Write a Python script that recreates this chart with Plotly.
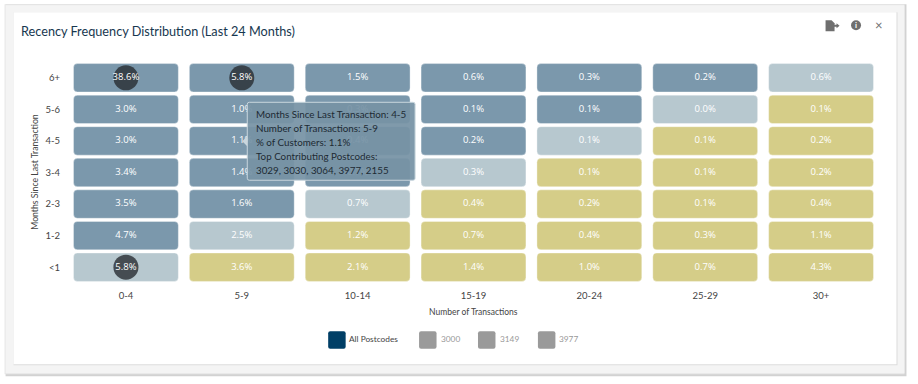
import plotly.graph_objects as go

frequency = ["0-4", "5-9", "10-14", "15-19", "20-24", "25-29", "30+"]
recency = ["<1", "1-2", "2-3", "3-4", "4-5", "5-6", "6+"]
pct = [
    [5.8, 3.6, 2.1, 1.4, 1.0, 0.7, 4.3],
    [4.7, 2.5, 1.2, 0.7, 0.4, 0.3, 1.1],
    [3.5, 1.6, 0.7, 0.4, 0.2, 0.1, 0.4],
    [3.4, 1.4, 0.7, 0.3, 0.1, 0.1, 0.2],
    [3.0, 1.1, 0.4, 0.2, 0.1, 0.1, 0.2],
    [3.0, 1.0, 0.3, 0.1, 0.1, 0.0, 0.1],
    [38.6, 5.8, 1.5, 0.6, 0.3, 0.2, 0.6],
]
# segment per cell: 0 dark blue, 1 light blue, 2 yellow
segment = [
    [1, 2, 2, 2, 2, 2, 2],
    [0, 1, 2, 2, 2, 2, 2],
    [0, 0, 1, 2, 2, 2, 2],
    [0, 0, 0, 1, 2, 2, 2],
    [0, 0, 0, 0, 1, 2, 2],
    [0, 0, 0, 0, 0, 1, 2],
    [0, 0, 0, 0, 0, 0, 1],
]
segment_colors = ["#7b98ac", "#b7c8cf", "#d5cd88"]
highlight_cells = [("0-4", "6+"), ("5-9", "6+"), ("0-4", "<1")]
legend_items = ["All Postcodes", "3000", "3149", "3977"]
title = "Recency Frequency Distribution (Last 24 Months)"
tooltip_lines = [
    "Months Since Last Transaction: 4-5",
    "Number of Transactions: 5-9",
    "% of Customers: 1.1%",
    "Top Contributing Postcodes:",
    "3029, 3030, 3064, 3977, 2155",
]

W, H = 918, 384
L, R, T, B = 67.5, 918 - 879.5, 61.7, 384 - 282.8
FONT = "Lato"
CELL_FONT = "Open Sans"


def px(x):
    return (x - L) / (W - L - R)


def py(y):
    return 1 - (y - T) / (H - T - B)


def rrect(x0, y0, x1, y1, r, fill, line=None, width=0):
    path = (
        f"M{px(x0 + r)},{py(y0)} L{px(x1 - r)},{py(y0)} Q{px(x1)},{py(y0)} {px(x1)},{py(y0 + r)} "
        f"L{px(x1)},{py(y1 - r)} Q{px(x1)},{py(y1)} {px(x1 - r)},{py(y1)} "
        f"L{px(x0 + r)},{py(y1)} Q{px(x0)},{py(y1)} {px(x0)},{py(y1 - r)} "
        f"L{px(x0)},{py(y0 + r)} Q{px(x0)},{py(y0)} {px(x0 + r)},{py(y0)} Z"
    )
    return dict(type="path", xref="paper", yref="paper", path=path, fillcolor=fill,
                line=dict(color=line or fill, width=width), layer="below")


def rect(x0, y0, x1, y1, fill):
    return dict(type="rect", xref="paper", yref="paper", x0=px(x0), x1=px(x1), y0=py(y0), y1=py(y1),
                fillcolor=fill, line=dict(width=0), layer="below")


def note(x, y, text, size, color, xanchor="center", **kw):
    return dict(x=px(x), y=py(y), xref="paper", yref="paper", text=text, showarrow=False,
                xanchor=xanchor, yanchor="middle", borderpad=0, borderwidth=0,
                font=dict(family=FONT, size=size, color=color), **kw)


fig = go.Figure()

# cells
for r, row_name in enumerate(recency):
    fig.add_trace(go.Bar(
        x=frequency,
        y=[0.9] * len(frequency),
        base=[r - 0.45] * len(frequency),
        width=0.905,
        marker=dict(color=[segment_colors[s] for s in segment[r]],
                    cornerradius=4, line=dict(width=1, color="rgba(255,255,255,0.35)")),
        hoverinfo="skip",
        showlegend=False,
    ))

# highlight circles
fig.add_trace(go.Scatter(
    x=[c[0] for c in highlight_cells],
    y=[recency.index(c[1]) for c in highlight_cells],
    mode="markers",
    marker=dict(size=25, color="rgba(40,45,50,0.8)", line=dict(width=0)),
    hoverinfo="skip",
    showlegend=False,
))

# cell labels
xs, ys, txt = [], [], []
for r in range(len(recency)):
    for c in range(len(frequency)):
        xs.append(frequency[c])
        ys.append(r)
        txt.append(f"{pct[r][c]:.1f}%")
fig.add_trace(go.Scatter(
    x=xs, y=ys, text=txt, mode="text", textposition="middle center",
    textfont=dict(family=CELL_FONT, size=9.5, color="white"),
    hoverinfo="skip", showlegend=False,
))

# page frame
shapes = [
    rect(5, 4, 907, 376, "#d2d2d2"),
    rect(4, 4, 905, 374, "#e6e6e6"),
    rect(5, 5, 905, 373, "#f4f4f4"),
    rect(13, 12, 898, 365, "#dcdcdc"),
    rect(13, 12, 897, 364, "#ffffff"),
]

# legend swatches
for sx, color in zip([328, 419, 478, 538], ["#003f66", "#9a9a9a", "#9a9a9a", "#9a9a9a"]):
    shapes.append(rrect(sx, 331, sx + 17.5, 348.5, 2, color))

# tooltip
tip_x0, tip_y0, tip_x1, tip_y1 = 247, 102, 415, 180
tip = rrect(tip_x0, tip_y0, tip_x1, tip_y1, 2, "rgba(118,146,165,0.93)", "#c9d6dd", 1)
tip["layer"] = "above"
shapes.append(tip)
shapes.append(dict(type="path", xref="paper", yref="paper", layer="above",
                   path=f"M{px(247)},{py(136)} L{px(242)},{py(141)} L{px(247)},{py(146)} Z",
                   fillcolor="#c9d6dd", line=dict(width=0)))

# icons
shapes += [
    dict(type="path", xref="paper", yref="paper", layer="above", fillcolor="#6f6f6f", line=dict(width=0),
         path=f"M{px(826)},{py(20)} L{px(832)},{py(20)} L{px(835)},{py(23)} L{px(835)},{py(31)} L{px(826)},{py(31)} Z"),
    dict(type="path", xref="paper", yref="paper", layer="above", fillcolor="#6f6f6f", line=dict(width=0),
         path=f"M{px(834)},{py(24.5)} L{px(837)},{py(24.5)} L{px(837)},{py(23)} L{px(840)},{py(25.5)} "
              f"L{px(837)},{py(28)} L{px(837)},{py(26.5)} L{px(834)},{py(26.5)} Z"),
    dict(type="circle", xref="paper", yref="paper", layer="above", fillcolor="#6f6f6f", line=dict(width=0),
         x0=px(851.5), x1=px(861.5), y0=py(20), y1=py(30)),
]

annotations = [
    note(20, 31, title, 12.7, "#17374f", xanchor="left"),
    note(856.5, 25, "<b>i</b>", 8, "white"),
    note(880, 25, "×", 13, "#6f6f6f"),
    note(474, 312, "Number of Transactions", 8.5, "#444444"),
    note(34, 172, "Months Since Last Transaction", 8.7, "#444444", textangle=-90),
]
for lx, name, color in zip([349, 441, 500, 559], legend_items, ["#444444", "#999999", "#999999", "#999999"]):
    annotations.append(note(lx, 339, name, 8.3, color, xanchor="left"))
for i, line in enumerate(tooltip_lines):
    annotations.append(note(255.5, 113.5 + i * 14, line, 9.8, "#1d2a33", xanchor="left"))

fig.update_layout(
    width=W, height=H,
    margin=dict(l=L, r=R, t=T, b=B, pad=0),
    paper_bgcolor="white", plot_bgcolor="rgba(0,0,0,0)",
    barmode="overlay",
    font=dict(family=FONT, size=9, color="#444444"),
    xaxis=dict(type="category", categoryorder="array", categoryarray=frequency, range=[-0.5, 6.5],
               showgrid=False, zeroline=False, showline=False, ticks="outside", ticklen=4,
               tickcolor="rgba(0,0,0,0)",
               tickfont=dict(family=FONT, size=9.5, color="#444444"), automargin=False),
    yaxis=dict(range=[-0.5, 6.5], tickmode="array", tickvals=list(range(len(recency))), ticktext=recency,
               showgrid=False, zeroline=False, showline=False, ticks="outside", ticklen=5,
               tickcolor="rgba(0,0,0,0)", tickfont=dict(family=FONT, size=9.5, color="#444444"), automargin=False),
    shapes=shapes,
    annotations=annotations,
)

fig.write_html("out.html", config={"displayModeBar": False},
               post_script="document.body.style.margin='0';document.body.style.overflow='hidden';")
